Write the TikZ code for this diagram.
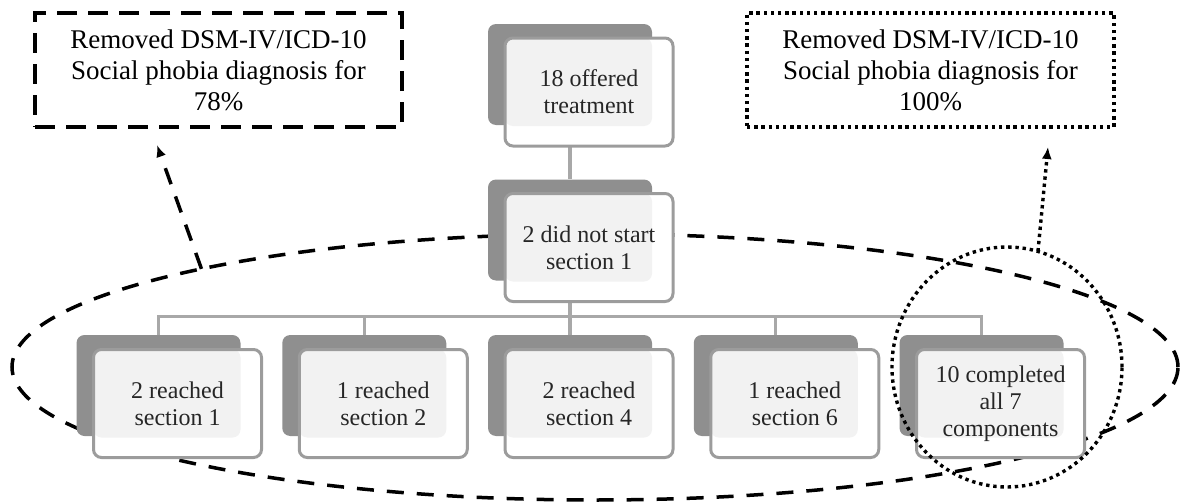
\documentclass[tikz,border=0pt]{standalone}
\usepackage{fontspec}
\setmainfont{Liberation Serif}
\usetikzlibrary{arrows.meta, backgrounds, shapes, positioning}
\definecolor{backgray}{HTML}{8F8F8F}
\definecolor{edgegray}{HTML}{9C9C9C}
\definecolor{linegray}{HTML}{A8A8A8}
\definecolor{softgray}{HTML}{F2F2F2}
\tikzset{
    backnode/.style = {draw=none, fill=backgray, rectangle, rounded corners=4pt, inner sep=0pt,
      minimum width=82pt, minimum height=50.5pt, node distance=0em},
    frontnode/.style = {draw=edgegray, line width=1.5pt, fill=white, rectangle, rounded corners=4pt,
      inner sep=0pt, minimum width=84pt, minimum height=54pt, node distance=0em,
      font=\fontsize{12}{13.5}\selectfont, text=black!85,
      path picture={\fill [softgray] (path picture bounding box.north west) rectangle ++(73.5pt,-44pt);}},
    notenode/.style = {rectangle, inner sep=0pt, minimum width=183.5pt, minimum height=57pt,
      font=\fontsize{13.5}{15.5}\selectfont},
    groupnode/.style = {ellipse, draw, inner sep=0pt, outer sep=0pt},
    boxdash/.style = {line width=2pt, dash pattern=on 10pt off 5.5pt},
    dashline/.style = {line width=1.75pt, dash pattern=on 8.5pt off 6.5pt},
    dotline/.style = {line width=1.7pt, dash pattern=on 1.7pt off 1.9pt},
    connect/.style = {draw=linegray, line width=1.6pt},
    pointer/.style = {-{Latex[length=6pt,width=5pt]}},
    every text node part/.style={align=center}
}

\begin{document}
\begin{tikzpicture}[x=0.5pt, y=-0.5pt, node distance=0em]
    \useasboundingbox (0,0) rectangle (1180,503);

    \node [name=offered, backnode] at (570,74.5) {};
    \node [name=offeredf, frontnode, right of = offered, xshift=9.5pt, yshift=-8.75pt] {18 offered\\treatment};

    \node [name=nostart, backnode, below of = offered, yshift=-77.75pt] {};
    \node [name=nostartf, frontnode, right of = nostart, xshift=9.5pt, yshift=-8.75pt] {2 did not start\\section 1};

    \node [name=sec3, backnode, below of = nostart, yshift=-77.75pt] {};
    \node [name=sec3f, frontnode, right of = sec3, xshift=9.5pt, yshift=-9pt] {2 reached\\section 4};

    \node [name=sec1, backnode, left of = sec3, xshift=-205.75pt] {};
    \node [name=sec1f, frontnode, right of = sec1, xshift=9.5pt, yshift=-9pt] {2 reached\\section 1};

    \node [name=sec2, backnode, left of = sec3, xshift=-102.875pt] {};
    \node [name=sec2f, frontnode, right of = sec2, xshift=9.5pt, yshift=-9pt] {1 reached\\section 2};

    \node [name=sec6, backnode, right of = sec3, xshift=102.875pt] {};
    \node [name=sec6f, frontnode, right of = sec6, xshift=9.5pt, yshift=-9pt] {1 reached\\section 6};

    \node [name=all7, backnode, right of = sec3, xshift=205.75pt] {};
    \node [name=all7f, frontnode, right of = all7, xshift=9.5pt, yshift=-9pt] {10 completed\\all 7\\components};

    % tree lines and the big group go behind the boxes
    \begin{scope}[on background layer]
        \draw [connect] (offered) -- (nostart);
        \draw [connect] (sec1.north) -- ++(0,-18) coordinate (bus) -| (all7.north);
        \draw [connect] (nostart) -- (nostart |- bus);
        \draw [connect] (sec2.north) -- (sec2.north |- bus);
        \draw [connect] (sec3.north) -- (sec3.north |- bus);
        \draw [connect] (sec6.north) -- (sec6.north |- bus);
        \node [name=group, groupnode, dashline, minimum width=583pt, minimum height=133pt] at (595,367) {};
    \end{scope}

    \node [name=done, groupnode, dotline, minimum width=115pt, minimum height=120pt] at (1007,367) {};

    \node [name=leftnote, notenode, draw, boxdash] at (218.5,70) {Removed DSM-IV/ICD-10\\Social phobia diagnosis for\\78\%};
    \node [name=rightnote, notenode, draw, dotline] at (930.5,70) {Removed DSM-IV/ICD-10\\Social phobia diagnosis for\\100\%};

    \coordinate (lefttip) at (157,145);
    \coordinate (righttip) at (1048,147);
    \draw [dashline, pointer] (group.166.95) -- (lefttip);
    \draw [dotline, pointer] (done.75.2) -- (righttip);
\end{tikzpicture}
\end{document}
